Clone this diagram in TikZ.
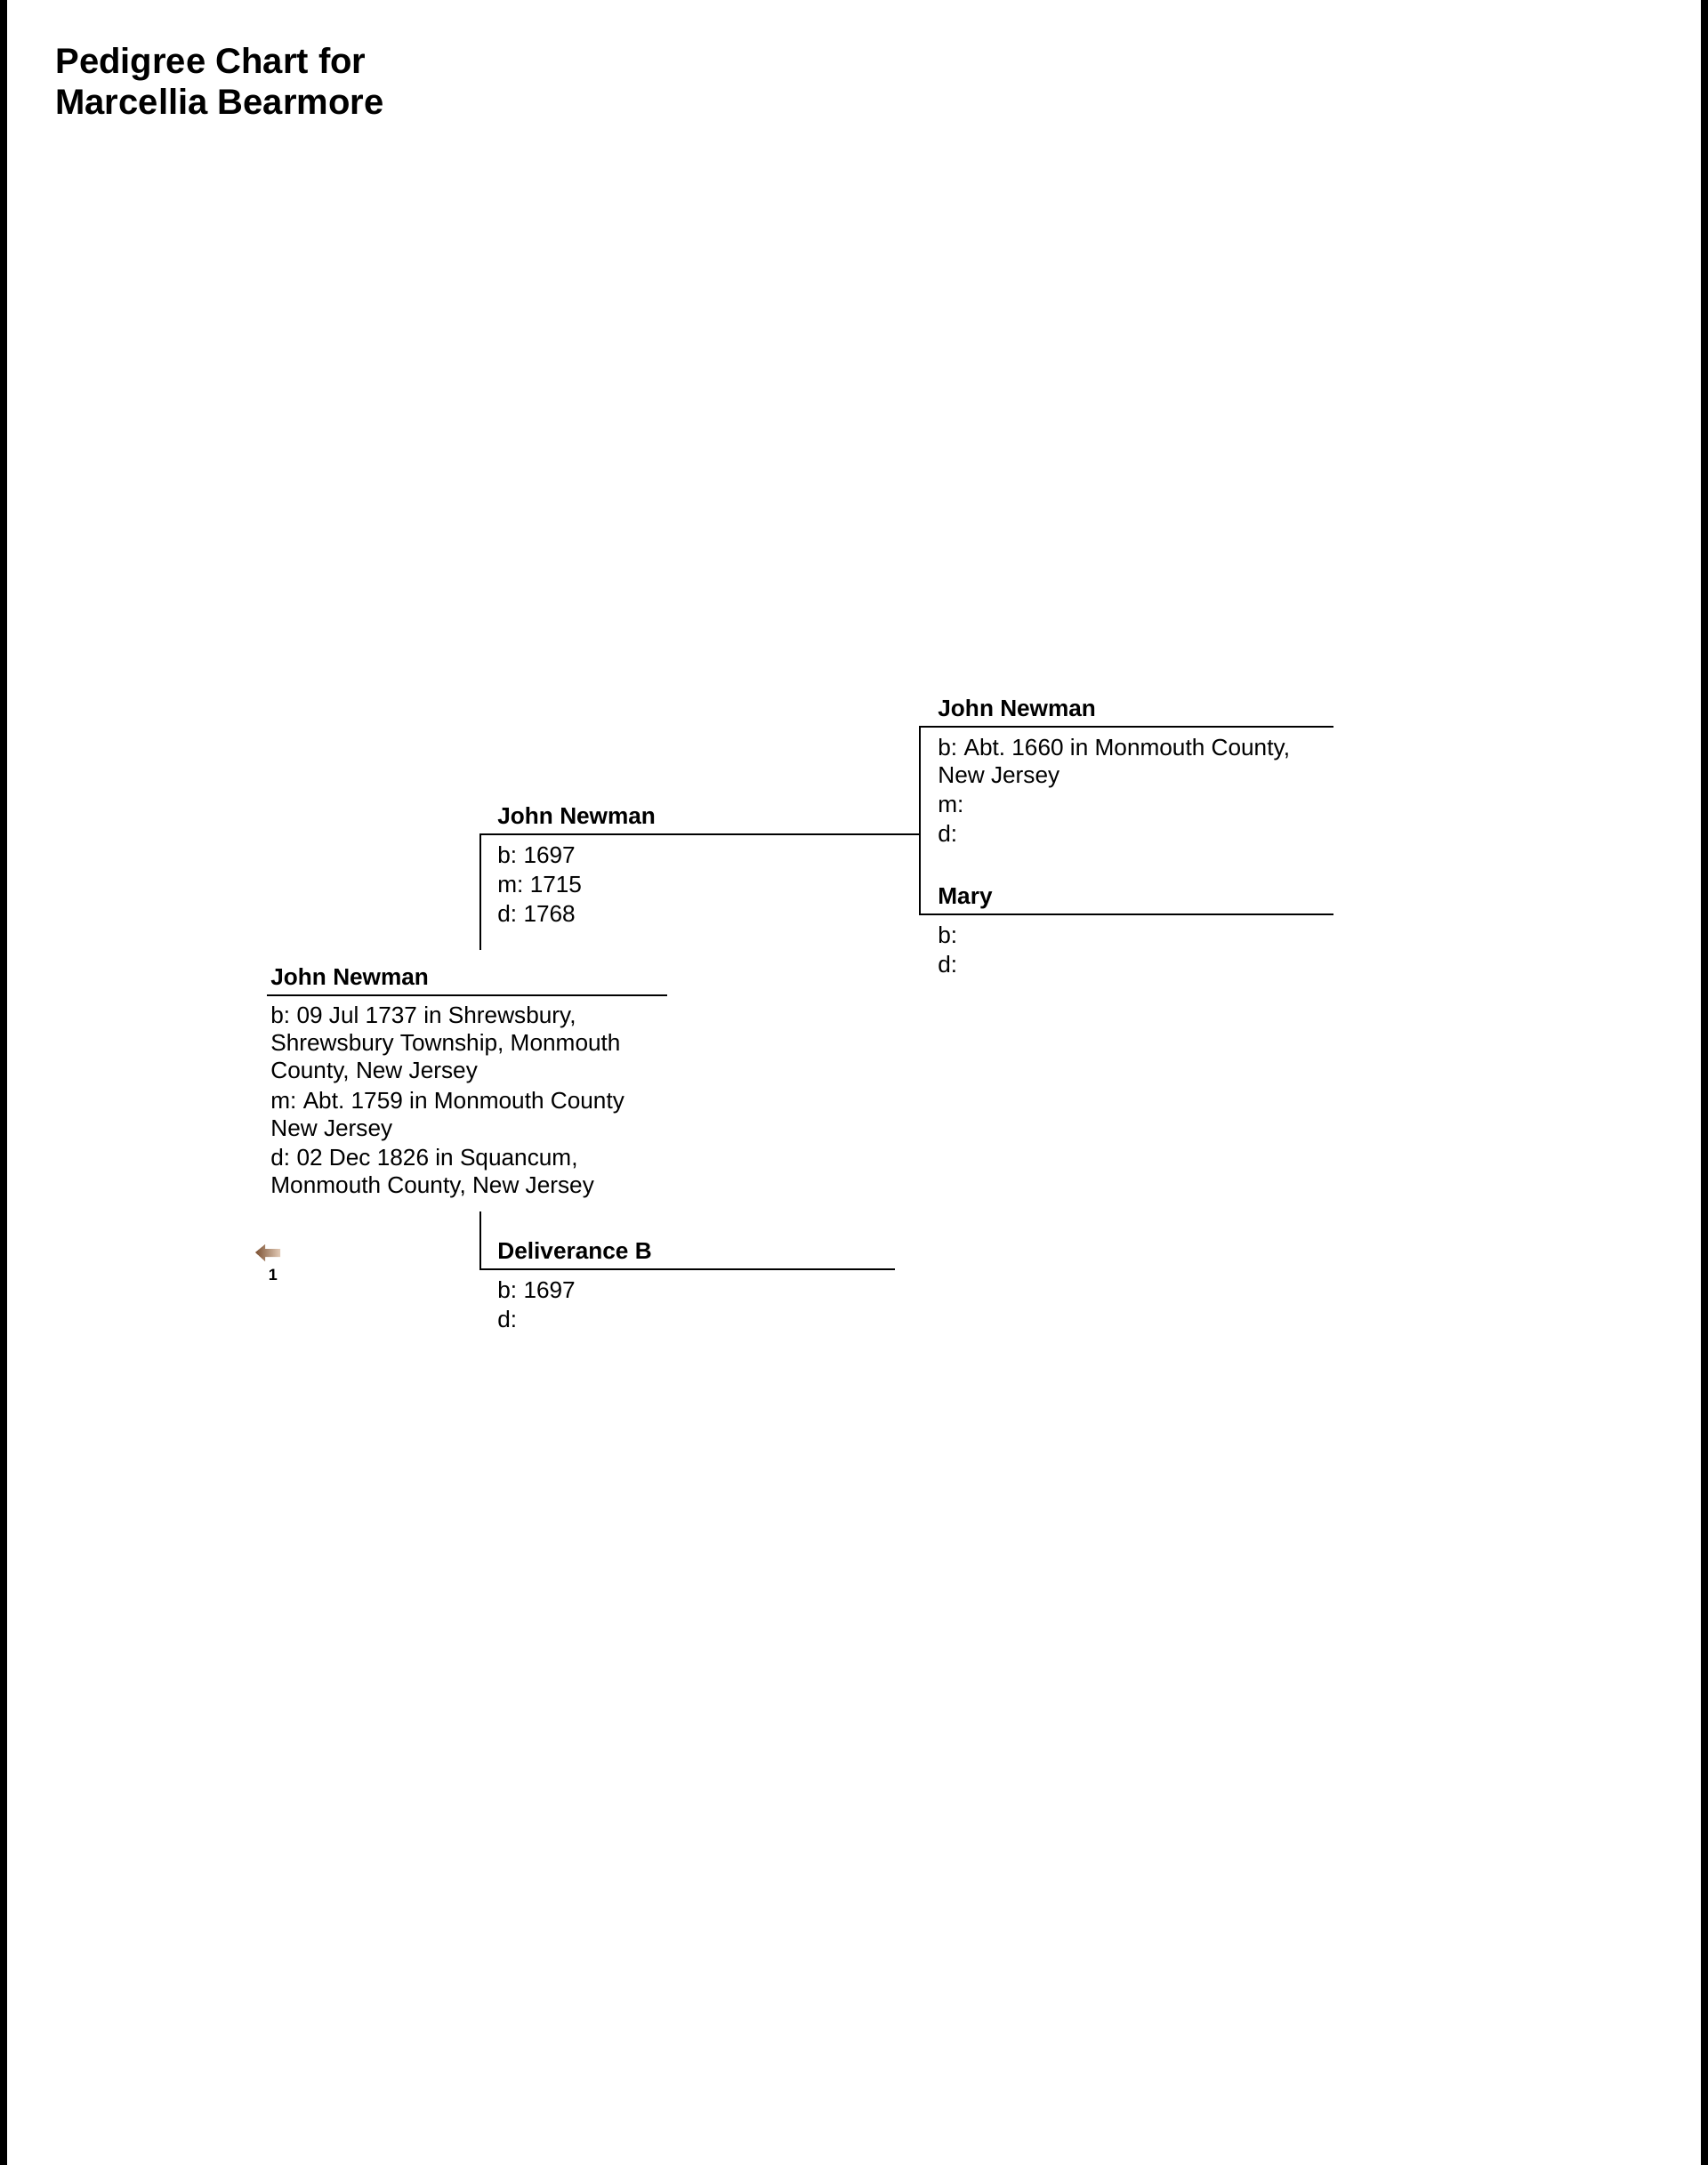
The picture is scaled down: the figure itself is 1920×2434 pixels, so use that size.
\documentclass[tikz,border=0pt]{standalone}
\usepackage{fontspec}
\setmainfont{Liberation Sans}
\frenchspacing
\definecolor{arrowdark}{RGB}{125,82,52}
\definecolor{arrowlight}{RGB}{228,205,185}
\tikzset{
  pname/.style={anchor=base west, inner sep=0pt, font=\bfseries\fontsize{13.1}{15}\selectfont},
  pinfo/.style={anchor=base west, inner sep=0pt, font=\fontsize{13.1}{15}\selectfont},
  ptitle/.style={anchor=base west, inner sep=0pt, font=\bfseries\fontsize{20}{24}\selectfont},
  chartline/.style={line width=1.3pt, black},
}
\begin{document}
\begin{tikzpicture}[x=0.5pt, y=-0.5pt]
% page and borders
\fill[white] (0,0) rectangle (1920,2434);
\useasboundingbox (0,0) rectangle (1920,2434);
\fill[black] (0,0) rectangle (8,2434);
\fill[black] (1912,0) rectangle (1920,2434);

% title
\node[ptitle] (title1) at (62,83) {Pedigree Chart for};
\node[ptitle] (title2) at (62,129) {Marcellia Bearmore};

% ---------- generation 1: John Newman ----------
\coordinate (p1w) at (300,1119);
\coordinate (p1e) at (750,1119);
\node[pname] (p1n) at (304,1107) {John Newman};
\node[pinfo] (p1a) at (304,1150) {b: 09 Jul 1737 in Shrewsbury,};
\node[pinfo] (p1b) at (304,1181) {Shrewsbury Township, Monmouth};
\node[pinfo] (p1c) at (304,1212) {County, New Jersey};
\node[pinfo] (p1d) at (304,1246) {m: Abt. 1759 in Monmouth County};
\node[pinfo] (p1e2) at (304,1277) {New Jersey};
\node[pinfo] (p1f) at (304,1310) {d: 02 Dec 1826 in Squancum,};
\node[pinfo] (p1g) at (304,1341) {Monmouth County, New Jersey};
\draw[chartline] (p1w) -- (p1e);

% ---------- generation 2: father John Newman ----------
\coordinate (p2w) at (540,938);
\coordinate (p2e) at (1034,938);
\coordinate (p2v) at (540,1068);
\node[pname] (p2n) at (559,926) {John Newman};
\node[pinfo] (p2a) at (559,970) {b: 1697};
\node[pinfo] (p2b) at (559,1003) {m: 1715};
\node[pinfo] (p2c) at (559,1036) {d: 1768};
\draw[chartline] (p2v) -- (p2w) -- (p2e);

% ---------- generation 2: mother Deliverance B ----------
\coordinate (p3v) at (540,1362);
\coordinate (p3w) at (540,1427);
\coordinate (p3e) at (1006,1427);
\node[pname] (p3n) at (559,1415) {Deliverance B};
\node[pinfo] (p3a) at (559,1459) {b: 1697};
\node[pinfo] (p3b) at (559,1492) {d:};
\draw[chartline] (p3v) -- (p3w) -- (p3e);

% ---------- generation 3: John Newman ----------
\coordinate (p4w) at (1034,817);
\coordinate (p4e) at (1499,817);
\node[pname] (p4n) at (1054,805) {John Newman};
\node[pinfo] (p4a) at (1054,849) {b: Abt. 1660 in Monmouth County,};
\node[pinfo] (p4b) at (1054,880) {New Jersey};
\node[pinfo] (p4c) at (1054,913) {m:};
\node[pinfo] (p4d) at (1054,946) {d:};

% ---------- generation 3: Mary ----------
\coordinate (p5w) at (1034,1028);
\coordinate (p5e) at (1499,1028);
\node[pname] (p5n) at (1054,1016) {Mary};
\node[pinfo] (p5a) at (1054,1060) {b:};
\node[pinfo] (p5b) at (1054,1093) {d:};
\draw[chartline] (p4e) -- (p4w) -- (p5w) -- (p5e);

% ---------- back arrow ----------
\coordinate (arr) at (287,1408);
\shade[left color=arrowdark, right color=arrowlight]
  (arr) -- ++(11,-9) -- ++(0,5) -- ++(17,0) -- ++(0,9) -- ++(-17,0) -- ++(0,5) -- cycle;
\node[anchor=base, inner sep=0pt, font=\bfseries\fontsize{9}{10}\selectfont] (backnum) at (307,1439) {1};
\end{tikzpicture}
\end{document}
